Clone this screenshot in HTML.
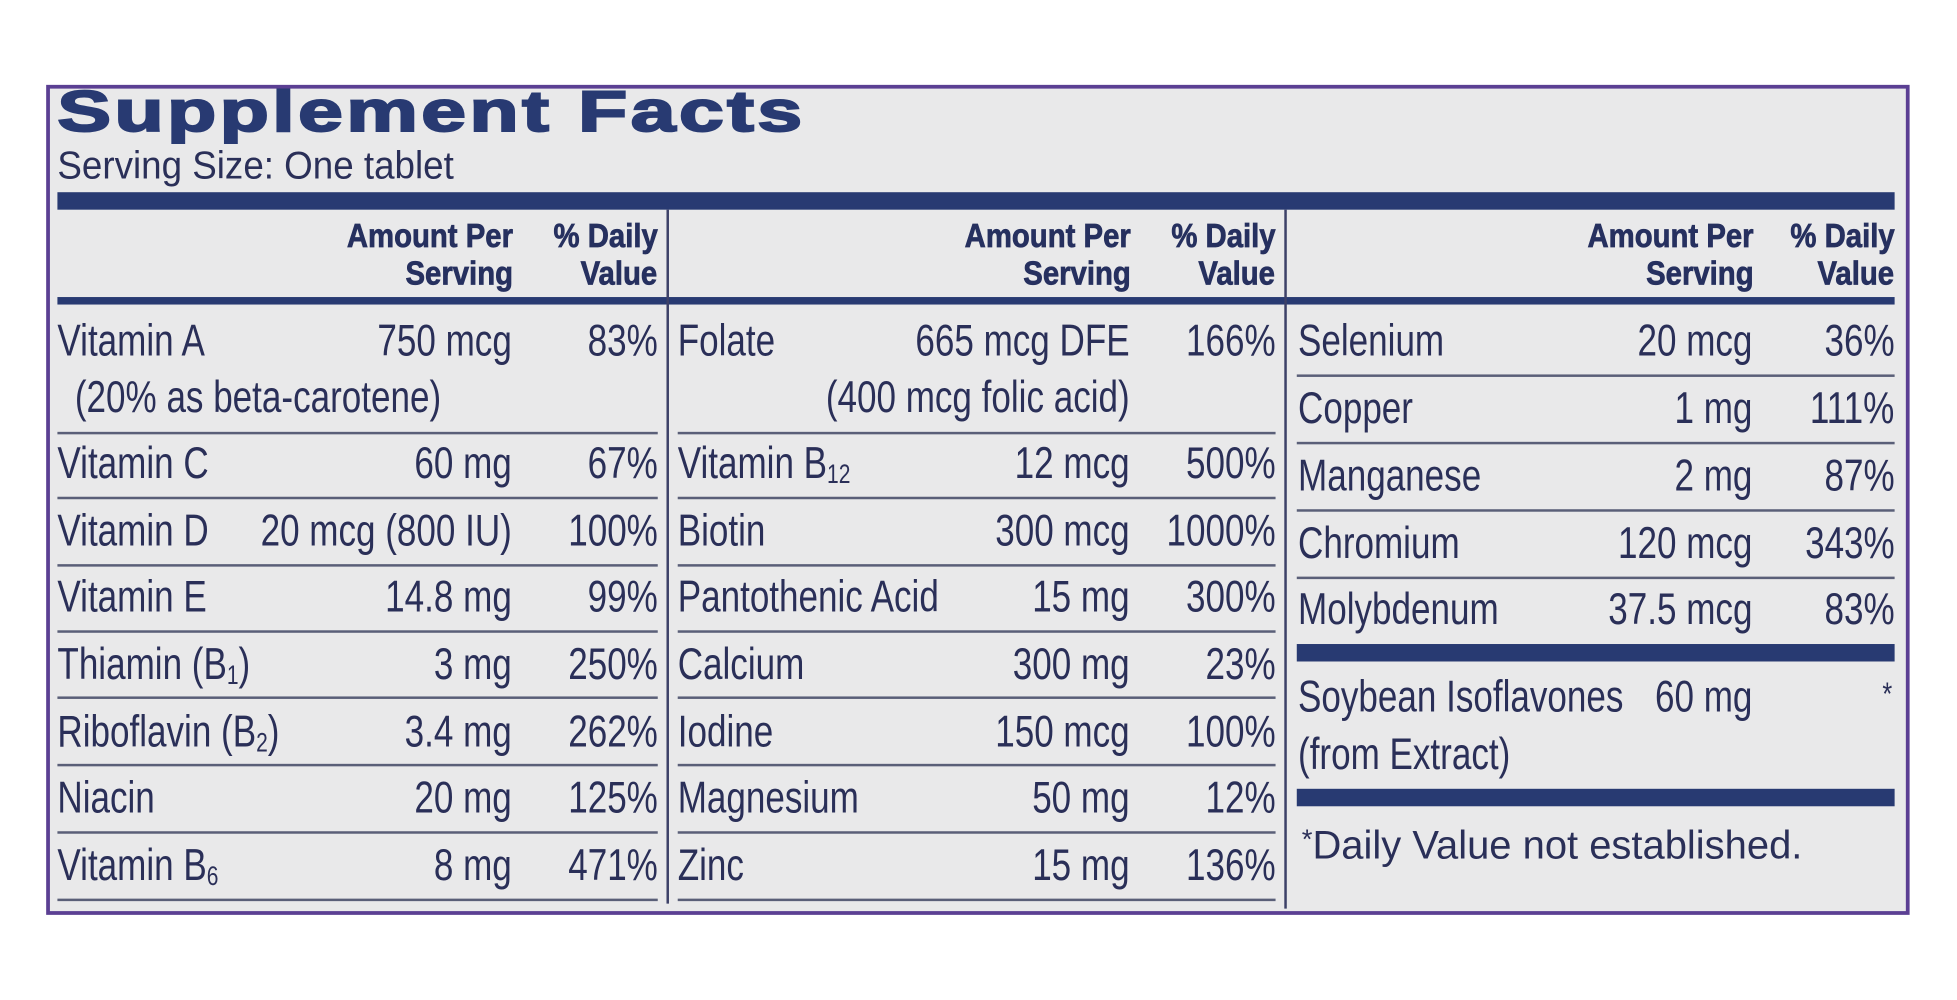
<!DOCTYPE html>
<html><head><meta charset="utf-8"><style>
html,body{margin:0;padding:0;background:#fff;overflow:hidden;width:1957px;height:1000px}
#w{position:absolute;left:0;top:0;width:1568px;height:801px;transform:scale(1.2481);transform-origin:0 0;font-family:"Liberation Sans",Arial,sans-serif;color:#2a2f58}
.box{position:absolute;left:37px;top:68px;width:1487px;height:659px;border:3px solid #5b3f93;background:#e9e9ea}
.bar{position:absolute;background:#283a72}
.hl{position:absolute;height:1.5px;background:#5a5f78}
.vl{position:absolute;width:2px;background:#3d4168}
.t{position:absolute;white-space:nowrap;font-size:36px;line-height:36px;transform:scaleX(.78);transform-origin:left}
.r{transform-origin:right}
.h{position:absolute;white-space:nowrap;font-size:27px;line-height:27px;font-weight:bold;transform:scaleX(.87);transform-origin:right;text-align:right;color:#26305f;-webkit-text-stroke:.6px #26305f}
sub{font-size:60%;vertical-align:-4px;line-height:0}
</style></head><body><div id="w">
<div class="box"></div>
<div style="position:absolute;left:46px;top:66px;font-size:46px;line-height:46px;font-weight:900;letter-spacing:2px;color:#283a72;-webkit-text-stroke:1.6px #283a72;white-space:nowrap;transform:scaleX(1.4);transform-origin:left">Supplement Facts</div>
<div class="t" style="left:46px;top:117px;font-size:31px;line-height:31px;transform:scaleX(.95)">Serving Size: One tablet</div>
<div class="bar" style="left:46px;top:154px;width:1472px;height:14px"></div>
<div class="bar" style="left:46px;top:238px;width:1472px;height:6px"></div>
<div class="vl" style="left:534px;top:168px;height:556px"></div>
<div class="vl" style="left:1029px;top:168px;height:560px"></div>

<div class="h" style="right:1157px;top:176px">Amount Per</div>
<div class="h" style="right:1157px;top:206px">Serving</div>
<div class="h" style="right:1041px;top:176px">% Daily</div>
<div class="h" style="right:1041px;top:206px">Value</div>
<div class="h" style="right:662px;top:176px">Amount Per</div>
<div class="h" style="right:662px;top:206px">Serving</div>
<div class="h" style="right:546px;top:176px">% Daily</div>
<div class="h" style="right:546px;top:206px">Value</div>
<div class="h" style="right:163px;top:176px">Amount Per</div>
<div class="h" style="right:163px;top:206px">Serving</div>
<div class="h" style="right:50px;top:176px">% Daily</div>
<div class="h" style="right:50px;top:206px">Value</div>

<div class="hl" style="left:46px;width:481px;top:346px"></div>
<div class="hl" style="left:46px;width:481px;top:398px"></div>
<div class="hl" style="left:46px;width:481px;top:452px"></div>
<div class="hl" style="left:46px;width:481px;top:505px"></div>
<div class="hl" style="left:46px;width:481px;top:558px"></div>
<div class="hl" style="left:46px;width:481px;top:612px"></div>
<div class="hl" style="left:46px;width:481px;top:666px"></div>
<div class="hl" style="left:46px;width:481px;top:720px"></div>
<div class="hl" style="left:543px;width:479px;top:346px"></div>
<div class="hl" style="left:543px;width:479px;top:398px"></div>
<div class="hl" style="left:543px;width:479px;top:452px"></div>
<div class="hl" style="left:543px;width:479px;top:505px"></div>
<div class="hl" style="left:543px;width:479px;top:558px"></div>
<div class="hl" style="left:543px;width:479px;top:612px"></div>
<div class="hl" style="left:543px;width:479px;top:666px"></div>
<div class="hl" style="left:543px;width:479px;top:720px"></div>
<div class="hl" style="left:1039px;width:479px;top:300px"></div>
<div class="hl" style="left:1039px;width:479px;top:354px"></div>
<div class="hl" style="left:1039px;width:479px;top:408px"></div>
<div class="hl" style="left:1039px;width:479px;top:462px"></div>
<div class="bar" style="left:1039px;top:516px;width:479px;height:14px"></div>
<div class="bar" style="left:1039px;top:632px;width:479px;height:14px"></div>

<div class="t" style="left:46px;top:255px">Vitamin A</div>
<div class="t r" style="right:1158px;top:255px">750 mcg</div>
<div class="t r" style="right:1041px;top:255px">83%</div>
<div class="t" style="left:60px;top:300px">(20% as beta-carotene)</div>
<div class="t" style="left:46px;top:353px">Vitamin C</div>
<div class="t r" style="right:1158px;top:353px">60 mg</div>
<div class="t r" style="right:1041px;top:353px">67%</div>
<div class="t" style="left:46px;top:407px">Vitamin D</div>
<div class="t r" style="right:1158px;top:407px">20 mcg (800 IU)</div>
<div class="t r" style="right:1041px;top:407px">100%</div>
<div class="t" style="left:46px;top:460px">Vitamin E</div>
<div class="t r" style="right:1158px;top:460px">14.8 mg</div>
<div class="t r" style="right:1041px;top:460px">99%</div>
<div class="t" style="left:46px;top:514px">Thiamin (B<sub>1</sub>)</div>
<div class="t r" style="right:1158px;top:514px">3 mg</div>
<div class="t r" style="right:1041px;top:514px">250%</div>
<div class="t" style="left:46px;top:568px">Riboflavin (B<sub>2</sub>)</div>
<div class="t r" style="right:1158px;top:568px">3.4 mg</div>
<div class="t r" style="right:1041px;top:568px">262%</div>
<div class="t" style="left:46px;top:621px">Niacin</div>
<div class="t r" style="right:1158px;top:621px">20 mg</div>
<div class="t r" style="right:1041px;top:621px">125%</div>
<div class="t" style="left:46px;top:675px">Vitamin B<sub>6</sub></div>
<div class="t r" style="right:1158px;top:675px">8 mg</div>
<div class="t r" style="right:1041px;top:675px">471%</div>

<div class="t" style="left:543px;top:255px">Folate</div>
<div class="t r" style="right:663px;top:255px">665 mcg DFE</div>
<div class="t r" style="right:546px;top:255px">166%</div>
<div class="t r" style="right:663px;top:300px">(400 mcg folic acid)</div>
<div class="t" style="left:543px;top:353px">Vitamin B<sub>12</sub></div>
<div class="t r" style="right:663px;top:353px">12 mcg</div>
<div class="t r" style="right:546px;top:353px">500%</div>
<div class="t" style="left:543px;top:407px">Biotin</div>
<div class="t r" style="right:663px;top:407px">300 mcg</div>
<div class="t r" style="right:546px;top:407px">1000%</div>
<div class="t" style="left:543px;top:460px">Pantothenic Acid</div>
<div class="t r" style="right:663px;top:460px">15 mg</div>
<div class="t r" style="right:546px;top:460px">300%</div>
<div class="t" style="left:543px;top:514px">Calcium</div>
<div class="t r" style="right:663px;top:514px">300 mg</div>
<div class="t r" style="right:546px;top:514px">23%</div>
<div class="t" style="left:543px;top:568px">Iodine</div>
<div class="t r" style="right:663px;top:568px">150 mcg</div>
<div class="t r" style="right:546px;top:568px">100%</div>
<div class="t" style="left:543px;top:621px">Magnesium</div>
<div class="t r" style="right:663px;top:621px">50 mg</div>
<div class="t r" style="right:546px;top:621px">12%</div>
<div class="t" style="left:543px;top:675px">Zinc</div>
<div class="t r" style="right:663px;top:675px">15 mg</div>
<div class="t r" style="right:546px;top:675px">136%</div>

<div class="t" style="left:1040px;top:255px">Selenium</div>
<div class="t r" style="right:164px;top:255px">20 mcg</div>
<div class="t r" style="right:50px;top:255px">36%</div>
<div class="t" style="left:1040px;top:309px">Copper</div>
<div class="t r" style="right:164px;top:309px">1 mg</div>
<div class="t r" style="right:50px;top:309px">111%</div>
<div class="t" style="left:1040px;top:363px">Manganese</div>
<div class="t r" style="right:164px;top:363px">2 mg</div>
<div class="t r" style="right:50px;top:363px">87%</div>
<div class="t" style="left:1040px;top:417px">Chromium</div>
<div class="t r" style="right:164px;top:417px">120 mcg</div>
<div class="t r" style="right:50px;top:417px">343%</div>
<div class="t" style="left:1040px;top:470px">Molybdenum</div>
<div class="t r" style="right:164px;top:470px">37.5 mcg</div>
<div class="t r" style="right:50px;top:470px">83%</div>
<div class="t" style="left:1040px;top:540px">Soybean Isoflavones</div>
<div class="t r" style="right:164px;top:540px">60 mg</div>
<div class="t r" style="right:52px;top:538px;font-size:26px">*</div>
<div class="t" style="left:1040px;top:586px">(from Extract)</div>
<div class="t" style="left:1043px;top:657px;font-size:32px;line-height:32px;transform:scaleX(1)"><span style="font-size:22px;vertical-align:8px">*</span>Daily Value not established.</div>
</div></body></html>
